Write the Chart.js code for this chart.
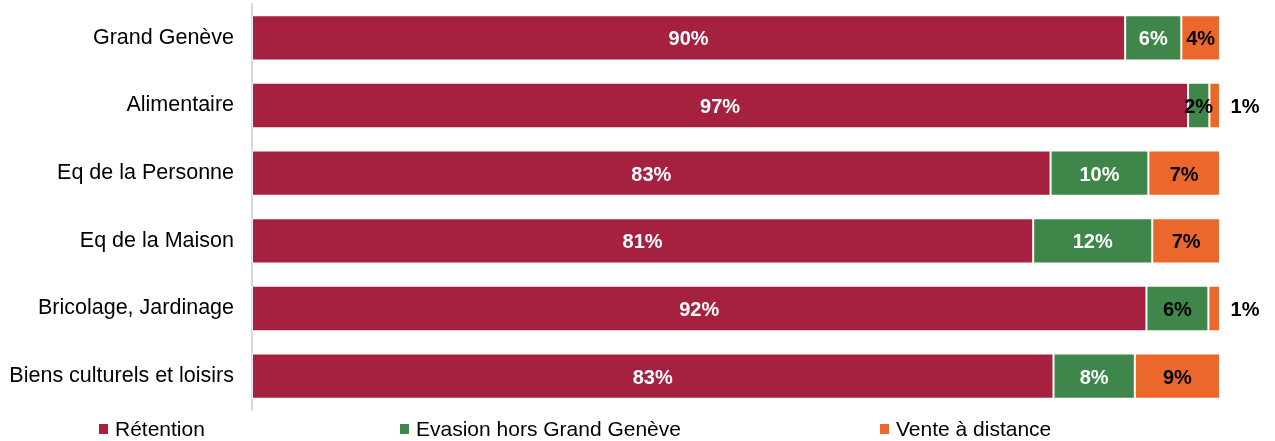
<!DOCTYPE html>
<html>
<head>
<meta charset="utf-8">
<script src="https://cdn.jsdelivr.net/npm/chart.js@4/dist/chart.umd.min.js"></script>
<style>
html,body{margin:0;padding:0;background:#fff;}
#wrap{width:1275px;height:441px;position:relative;}
</style>
</head>
<body>
<div id="wrap"><canvas id="c"></canvas></div>
<script>
const categories = ["Grand Genève", "Alimentaire", "Eq de la Personne", "Eq de la Maison", "Bricolage, Jardinage", "Biens culturels et loisirs"];
const seriesNames = ["Rétention", "Evasion hors Grand Genève", "Vente à distance"];
const retention = [90.2, 96.7, 82.5, 80.7, 92.4, 82.8];
const evasion = [5.8, 2.2, 10.1, 12.3, 6.4, 8.4];
const venteDistance = [4.0, 1.1, 7.4, 7.0, 1.2, 8.8];

const colors = ["#A6213F", "#3E8649", "#EC672B"];
const labelColors = [
  ["#fff","#fff","#fff","#fff","#fff","#fff"],
  ["#fff","#000","#fff","#fff","#000","#fff"],
  ["#000","#000","#000","#000","#000","#000"]
];
const FONT = "'Liberation Sans', Arial, Helvetica, sans-serif";

const labelPlugin = {
  id: 'barLabels',
  afterDatasetsDraw(chart) {
    const ctx = chart.ctx;
    ctx.save();
    ctx.font = "bold 20px " + FONT;
    ctx.textAlign = 'center';
    ctx.textBaseline = 'middle';
    chart.data.datasets.forEach((ds, di) => {
      const meta = chart.getDatasetMeta(di);
      meta.data.forEach((el, i) => {
        const v = ds.data[i];
        const txt = Math.round(v) + "%";
        let x = (el.x + el.base) / 2;
        let col = labelColors[di][i];
        if (v < 1.5) { x = el.x + 25; col = "#000"; }
        ctx.fillStyle = col;
        ctx.fillText(txt, x, el.y + 2);
      });
    });
    ctx.restore();
  }
};

const legendPlugin = {
  id: 'customLegend',
  afterDraw(chart) {
    const ctx = chart.ctx;
    const xs = [99, 400, 880];
    const y = 429;
    ctx.save();
    ctx.font = "21px " + FONT;
    ctx.textBaseline = 'middle';
    ctx.textAlign = 'left';
    chart.data.datasets.forEach((ds, i) => {
      ctx.fillStyle = ds.backgroundColor;
      ctx.fillRect(xs[i], y - 5, 9, 10);
      ctx.fillStyle = "#000";
      ctx.fillText(ds.label, xs[i] + 16, y + 1);
    });
    ctx.restore();
  }
};

const seriesData = [retention, evasion, venteDistance];
new Chart(document.getElementById('c'), {
  type: 'bar',
  data: {
    labels: categories,
    datasets: seriesNames.map((n, i) => ({
      label: n,
      data: seriesData[i],
      backgroundColor: colors[i],
      borderColor: 'rgba(255,255,255,0.55)',
      borderWidth: 1,
      borderSkipped: false,
      barPercentage: 0.67,
      categoryPercentage: 1.0
    }))
  },
  options: {
    indexAxis: 'y',
    responsive: true,
    maintainAspectRatio: false,
    animation: false,
    devicePixelRatio: 1,
    layout: { padding: { left: 0, right: 55, top: 4, bottom: 31 } },
    plugins: { legend: { display: false }, tooltip: { enabled: false } },
    scales: {
      x: { stacked: true, display: false, min: 0, max: 100 },
      y: {
        stacked: true,
        grid: { display: false, drawTicks: false },
        border: { display: true, color: '#d9d9d9', width: 2 },
        ticks: { color: '#000', font: { family: FONT, size: 21.5 }, padding: 18 },
        afterFit(scale) { scale.width = 252; scale.paddingTop = 0; scale.paddingBottom = 0; }
      }
    }
  },
  plugins: [labelPlugin, legendPlugin]
});
</script>
</body>
</html>
